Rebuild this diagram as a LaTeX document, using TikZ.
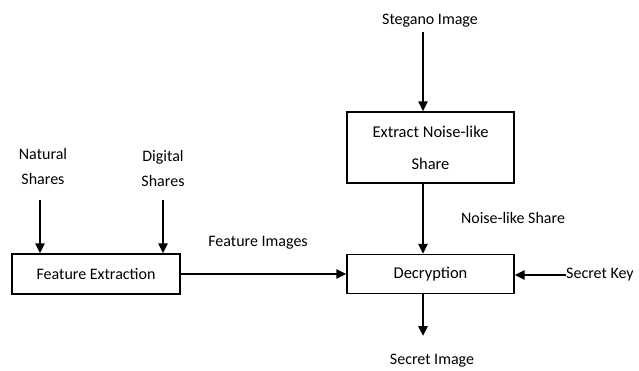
\documentclass[tikz,border=0pt]{standalone}
\usepackage{fontspec}
\setmainfont{Carlito}
\usetikzlibrary{arrows.meta}
\begin{document}
\begin{tikzpicture}[x=1pt,y=-1pt,
  blk/.style={draw,line width=1.3pt,inner sep=0pt,font=\fontsize{16}{20}\selectfont},
  lbl/.style={inner sep=0pt,align=center,font=\fontsize{16}{25}\selectfont},
  arr/.style={line width=2.6pt,-{Triangle[length=10pt,width=9pt]}},
  ln/.style={line width=2.6pt}]
\useasboundingbox (0,0) rectangle (639,370);
\node[blk,minimum width=168pt,minimum height=40pt] (fe) at (96,274) {Feature Extraction};
\node[blk,minimum width=167pt,minimum height=71pt,align=center,font=\fontsize{16.5}{32}\selectfont] (ex) at (430.5,147.5) {Extract Noise-like\\Share};
\node[blk,minimum width=167pt,minimum height=39pt,font=\fontsize{16.5}{20}\selectfont] (de) at (430.5,274) {Decryption};
\node[lbl] (st) at (430,21) {Stegano Image};
\node[lbl] (ns) at (43,166) {Natural\\Shares};
\node[lbl] (ds) at (163,168) {Digital\\Shares};
\node[lbl] (fi) at (258,243) {Feature Images};
\node[lbl] (nl) at (513,218) {Noise-like Share};
\node[lbl,anchor=west] (sk) at (566,275) {Secret Key};
\node[lbl] (si) at (432,361) {Secret Image};
\coordinate (stb) at (423,32);
\coordinate (nsb) at (40,200);
\coordinate (dsb) at (163,200);
\coordinate (siT) at (423,336);
\draw[arr] (stb) -- (stb |- ex.north);
\draw[arr] (ex.south -| stb) -- (de.north -| stb);
\draw[arr] (nsb) -- (nsb |- fe.north);
\draw[arr] (dsb) -- (dsb |- fe.north);
\draw[arr] (fe.east) -- (de.west);
\draw[arr] (sk.west) -- (de.east |- sk.west);
\draw[arr] (de.south -| stb) -- (siT);
\end{tikzpicture}
\end{document}
